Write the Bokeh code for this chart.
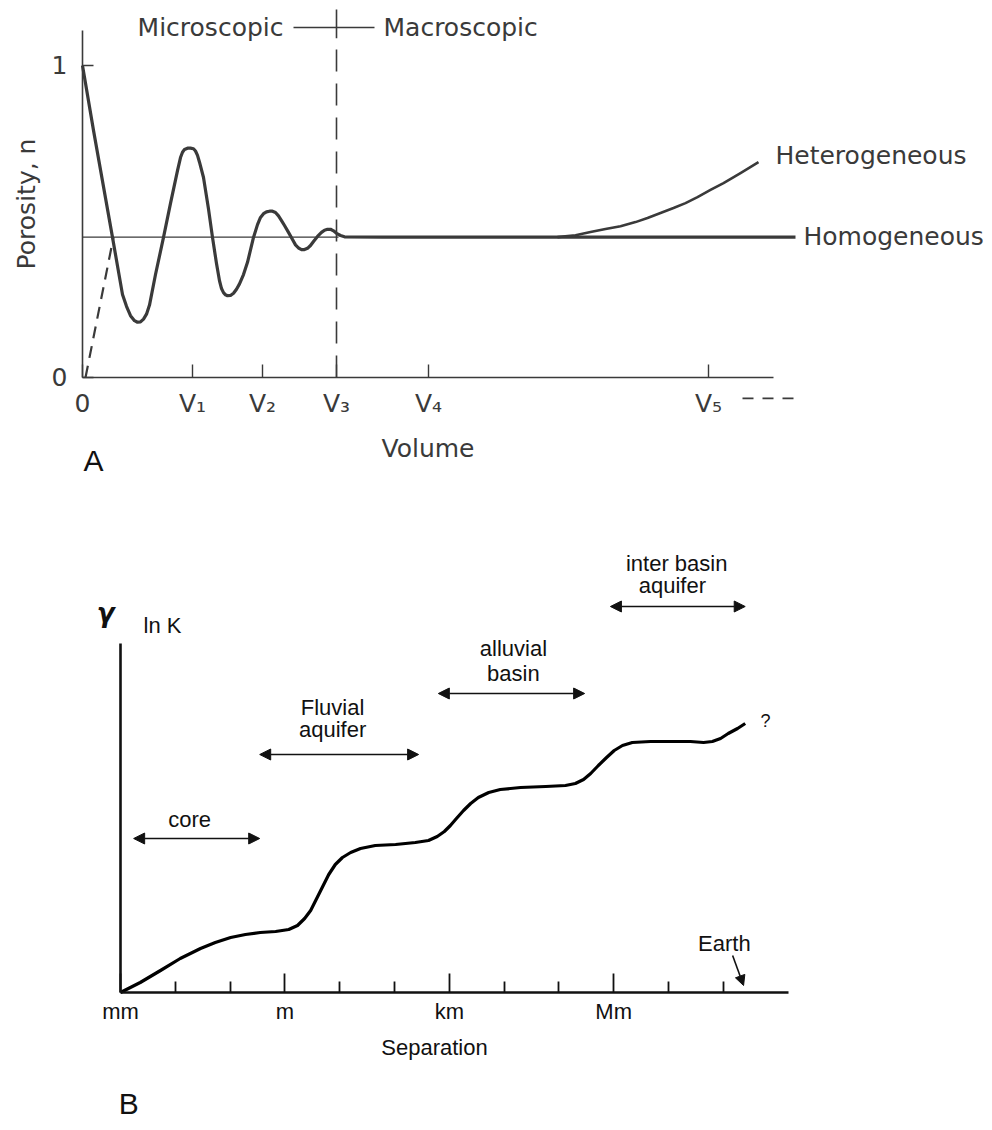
from bokeh.plotting import figure
from bokeh.models import Range1d, LinearAxis, FixedTicker, Arrow, NormalHead
from bokeh.layouts import column
from bokeh.embed import file_html
from bokeh.resources import INLINE
from bokeh.core.properties import value

# ---------------- Panel A data ----------------
vol_ticks = [0, 110, 180, 254, 346, 626]
vol_labels = ["0", "V₁", "V₂", "V₃", "V₄", "V₅"]
por_ticks = [0, 1]
por_labels = ["0", "1"]

curve_x = [0, 11, 30, 40, 44, 48, 52, 55, 58, 61, 64, 67, 73, 81, 88, 95, 98, 100, 102, 105,
           108, 111, 113, 115, 117, 121, 126, 130, 134, 137, 139, 141, 143, 145, 148, 151, 154,
           157, 161, 165, 171, 175, 178, 181, 184, 187, 190, 193, 196, 199, 202, 206, 210, 213,
           216, 219, 222, 225, 228, 231, 235, 239, 242, 245, 248, 251, 254, 258, 262, 300, 400,
           478, 560, 640, 713]
curve_n = [1.0, 0.792, 0.449, 0.266, 0.228, 0.198, 0.182, 0.177, 0.178, 0.187, 0.203, 0.232,
           0.330, 0.449, 0.558, 0.663, 0.705, 0.722, 0.731, 0.735, 0.735, 0.733, 0.726, 0.712,
           0.690, 0.641, 0.540, 0.449, 0.365, 0.310, 0.285, 0.272, 0.265, 0.262, 0.263, 0.270,
           0.283, 0.300, 0.330, 0.369, 0.449, 0.490, 0.513, 0.525, 0.531, 0.533, 0.533, 0.529,
           0.518, 0.503, 0.487, 0.465, 0.442, 0.425, 0.415, 0.410, 0.410, 0.414, 0.423, 0.436,
           0.452, 0.465, 0.472, 0.475, 0.475, 0.470, 0.462, 0.455, 0.451, 0.45, 0.45, 0.45,
           0.45, 0.45, 0.45]
mean_x = [0, 256]
mean_n = [0.45, 0.45]
hetero_x = [475, 493, 508, 523, 538, 553, 565, 578, 591, 603, 615, 628, 641, 658, 676]
hetero_n = [0.450, 0.456, 0.466, 0.476, 0.485, 0.498, 0.511, 0.527, 0.543, 0.559, 0.578,
            0.601, 0.623, 0.655, 0.690]
dash_x = [3, 31]
dash_n = [0.0, 0.45]
rev_x = 254            # microscopic / macroscopic boundary (V3)
rev_n_top = 1.087

# ---------------- Panel B data ----------------
sep_ticks = [0, 3, 6, 9]
sep_labels = ["mm", "m", "km", "Mm"]
sep_minor = [1, 2, 4, 5, 7, 8, 10, 11]

lnk_x = [0.0, 0.36, 0.73, 1.09, 1.46, 1.73, 2.01, 2.28, 2.55, 2.83, 3.07, 3.23, 3.36, 3.47,
         3.58, 3.69, 3.80, 3.92, 4.05, 4.20, 4.38, 4.65, 5.02, 5.38, 5.62, 5.78, 5.91, 6.02,
         6.13, 6.26, 6.39, 6.53, 6.72, 6.93, 7.30, 7.76, 8.12, 8.30, 8.45, 8.58, 8.72, 8.87,
         9.01, 9.16, 9.34, 9.67, 10.04, 10.40, 10.64, 10.80, 10.95, 11.09, 11.26, 11.40]
lnk_y = [0.00, 0.10, 0.22, 0.34, 0.44, 0.50, 0.55, 0.58, 0.60, 0.61, 0.63, 0.67, 0.74, 0.82,
         0.94, 1.06, 1.18, 1.28, 1.35, 1.40, 1.44, 1.47, 1.48, 1.50, 1.52, 1.56, 1.61, 1.67,
         1.74, 1.82, 1.89, 1.95, 2.00, 2.03, 2.05, 2.06, 2.07, 2.09, 2.13, 2.19, 2.27, 2.35,
         2.42, 2.47, 2.50, 2.51, 2.51, 2.51, 2.50, 2.51, 2.54, 2.59, 2.64, 2.69]

scale_x0 = [0.24, 2.54, 5.80, 8.94]
scale_x1 = [2.54, 5.44, 8.47, 11.40]
scale_y = [1.54, 2.38, 2.99, 3.86]

FONT_A = "DejaVu Sans"
FONT_B = "Liberation Sans"
INK_A = "#3a3a3a"
INK_B = "#111111"

# ================= Panel A =================
p1 = figure(width=990, height=506, x_range=Range1d(-82, 908), y_range=Range1d(-0.4135, 1.2083),
            x_axis_type=None, y_axis_type=None, toolbar_location=None, output_backend="svg",
            min_border=0, outline_line_color=None)

xa = LinearAxis(fixed_location=0, bounds=(0, 691),
                ticker=FixedTicker(ticks=vol_ticks, minor_ticks=[]),
                major_label_overrides={t: l for t, l in zip(vol_ticks, vol_labels)},
                axis_label="Volume")
ya = LinearAxis(fixed_location=0, bounds=(0, 1.112),
                ticker=FixedTicker(ticks=por_ticks, minor_ticks=[]),
                major_label_overrides={t: l for t, l in zip(por_ticks, por_labels)},
                axis_label="Porosity, n")
for ax in (xa, ya):
    ax.axis_line_color = INK_A
    ax.axis_line_width = 1.6
    ax.major_tick_line_color = INK_A
    ax.major_tick_line_width = 1.4
    ax.major_tick_out = 0
    ax.minor_tick_line_color = None
    ax.major_label_text_font = FONT_A
    ax.major_label_text_font_size = "25px"
    ax.major_label_text_color = INK_A
    ax.axis_label_text_font = FONT_A
    ax.axis_label_text_font_size = "25px"
    ax.axis_label_text_font_style = "normal"
    ax.axis_label_text_color = INK_A
xa.major_tick_in = 13
xa.major_label_standoff = 12
xa.axis_label_standoff = 12
ya.major_tick_in = 11
ya.major_label_standoff = 15
ya.axis_label_standoff = 8
p1.add_layout(xa, "below")
p1.add_layout(ya, "left")

# mean porosity (thin)
p1.line(mean_x, mean_n, line_color=INK_A, line_width=1.3)
# dashed extrapolation from origin
p1.line(dash_x, dash_n, line_color=INK_A, line_width=2.2, line_dash="12 8")
# main curve
p1.line(curve_x, curve_n, line_color=INK_A, line_width=3.2, line_join="round")
p1.line(hetero_x, hetero_n, line_color=INK_A, line_width=2.6, line_join="round")
# boundary marker
p1.line([rev_x, rev_x], [0, rev_n_top], line_color=INK_A, line_width=1.6, line_dash="22 12")
p1.line([rev_x, rev_x], [rev_n_top, 1.1795], line_color=INK_A, line_width=1.6)
p1.line([211, 292], [1.122, 1.122], line_color=INK_A, line_width=1.6)
# trailing dashes after V5
p1.line([660, 711], [-0.067, -0.067], line_color=INK_A, line_width=1.6, line_dash="11 9")

p1.text(x=[201], y=[1.122], text=["Microscopic"], text_align="right", text_baseline="middle",
        text_font=value(FONT_A), text_font_size="25px", text_color=INK_A)
p1.text(x=[301], y=[1.122], text=["Macroscopic"], text_align="left", text_baseline="middle",
        text_font=value(FONT_A), text_font_size="25px", text_color=INK_A)
p1.text(x=[693], y=[0.71], text=["Heterogeneous"], text_align="left", text_baseline="middle",
        text_font=value(FONT_A), text_font_size="25px", text_color=INK_A)
p1.text(x=[721], y=[0.453], text=["Homogeneous"], text_align="left", text_baseline="middle",
        text_font=value(FONT_A), text_font_size="25px", text_color=INK_A)
p1.text(x=[11], y=[-0.266], text=["A"], text_align="center", text_baseline="middle",
        text_font=value(FONT_B), text_font_size="30px", text_color=INK_B)

# ================= Panel B =================
p2 = figure(width=990, height=620, x_range=Range1d(-2.1898, 15.876), y_range=Range1d(-1.34, 4.86),
            x_axis_type=None, y_axis_type=None, toolbar_location=None, output_backend="svg",
            min_border=0, outline_line_color=None)

xb = LinearAxis(fixed_location=0, bounds=(0, 12.19),
                ticker=FixedTicker(ticks=sep_ticks, minor_ticks=sep_minor),
                major_label_overrides={t: l for t, l in zip(sep_ticks, sep_labels)})
yb = LinearAxis(fixed_location=0, bounds=(0, 3.49),
                ticker=FixedTicker(ticks=[], minor_ticks=[]))
for ax in (xb, yb):
    ax.axis_line_color = INK_B
    ax.axis_line_width = 2.6
    ax.major_tick_line_color = INK_B
    ax.major_tick_line_width = 1.8
    ax.minor_tick_line_color = INK_B
    ax.minor_tick_line_width = 1.8
    ax.major_tick_out = 0
    ax.minor_tick_out = 0
    ax.major_label_text_font = FONT_B
    ax.major_label_text_font_size = "22px"
    ax.major_label_text_color = INK_B
xb.major_tick_in = 19
xb.minor_tick_in = 11
xb.major_label_standoff = 6
p2.add_layout(xb, "below")
p2.add_layout(yb, "left")

p2.line(lnk_x, lnk_y, line_color="#000000", line_width=3.2, line_join="round")

for x0, x1, yy in zip(scale_x0, scale_x1, scale_y):
    p2.add_layout(Arrow(x_start=x0, y_start=yy, x_end=x1, y_end=yy, line_width=1.6,
                        line_color=INK_B,
                        start=NormalHead(size=11, fill_color=INK_B, line_color=INK_B),
                        end=NormalHead(size=11, fill_color=INK_B, line_color=INK_B)))

txt = dict(text_font=value(FONT_B), text_font_size="22px", text_color=INK_B,
           text_align="center", text_baseline="middle")
p2.text(x=[1.26], y=[1.73], text=["core"], **txt)
p2.text(x=[3.87, 3.87], y=[2.85, 2.63], text=["Fluvial", "aquifer"], **txt)
p2.text(x=[7.17, 7.17], y=[3.44, 3.19], text=["alluvial", "basin"], **txt)
p2.text(x=[10.15, 10.07], y=[4.29, 4.07], text=["inter basin", "aquifer"], **txt)
p2.text(x=[11.02], y=[0.49], text=["Earth"], **txt)
p2.text(x=[5.73], y=[-0.55], text=["Separation"], **txt)
p2.text(x=[11.77], y=[2.72], text=["?"], text_font=value(FONT_B), text_font_size="18px",
        text_color=INK_B, text_align="center", text_baseline="middle")
p2.text(x=[0.42], y=[3.67], text=["ln K"], text_font=value(FONT_B), text_font_size="22px",
        text_color=INK_B, text_align="left", text_baseline="middle")
p2.text(x=[-0.27], y=[3.80], text=["γ"], text_font=value("DejaVu Sans"), text_font_size="26px",
        text_font_style="bold italic", text_color=INK_B, text_align="center",
        text_baseline="middle")
p2.text(x=[0.15], y=[-1.11], text=["B"], text_font=value(FONT_B), text_font_size="30px",
        text_color=INK_B, text_align="center", text_baseline="middle")
p2.add_layout(Arrow(x_start=11.17, y_start=0.37, x_end=11.37, y_end=0.07, line_width=1.6,
                    line_color=INK_B,
                    end=NormalHead(size=10, fill_color=INK_B, line_color=INK_B)))

layout = column(p1, p2, spacing=0)
open("out.html", "w").write(file_html(layout, INLINE))
